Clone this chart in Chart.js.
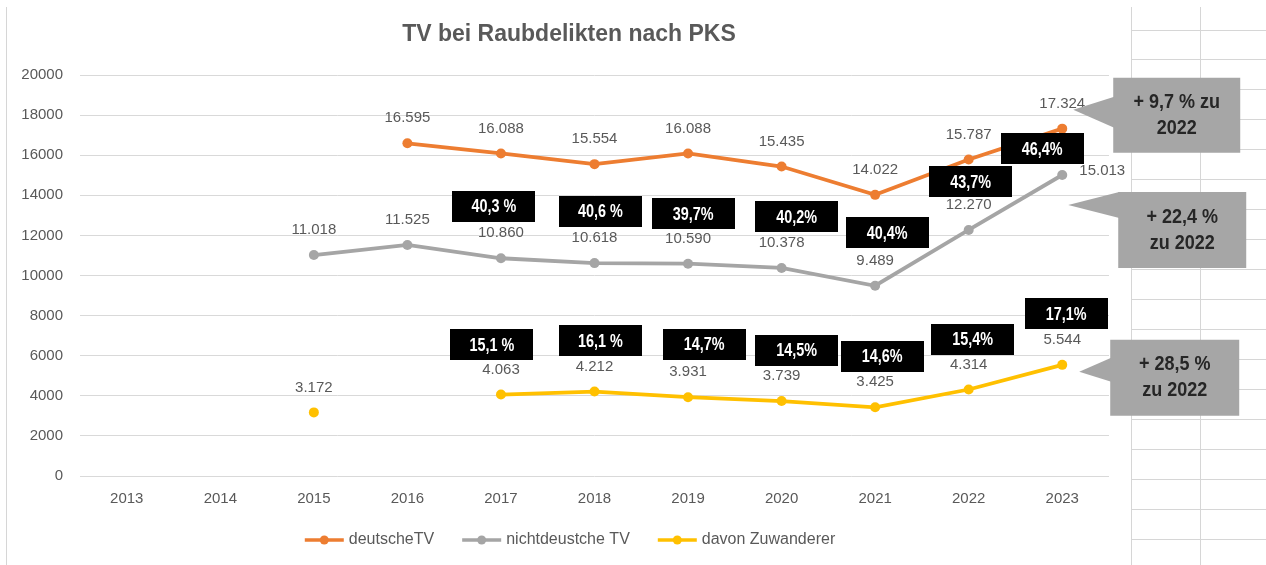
<!DOCTYPE html>
<html lang="de">
<head>
<meta charset="UTF-8">
<title>TV bei Raubdelikten nach PKS</title>
<script src="https://cdn.jsdelivr.net/npm/chart.js"></script>
<style>
    html, body { margin: 0; padding: 0; background: #fff; }
    #wrap { width: 1266px; height: 565px; }
</style>
</head>
<body>
<div id="wrap"><canvas id="chart" width="1266" height="565"></canvas></div>
<script>
    // Daten
    var years = ['2013', '2014', '2015', '2016', '2017', '2018', '2019', '2020', '2021', '2022', '2023'];
    var deutscheTV = [null, null, null, 16595, 16088, 15554, 16088, 15435, 14022, 15787, 17324];
    var nichtdeutscheTV = [null, null, 11018, 11525, 10860, 10618, 10590, 10378, 9489, 12270, 15013];
    var zuwanderer = [null, null, 3172, null, 4063, 4212, 3931, 3739, 3425, 4314, 5544];
    var anteilNichtdeutsch = [null, null, null, null, '40,3 %', '40,6 %', '39,7%', '40,2%', '40,4%', '43,7%', '46,4%'];
    var anteilZuwanderer = [null, null, null, null, '15,1 %', '16,1 %', '14,7%', '14,5%', '14,6%', '15,4%', '17,1%'];
    var veraenderung = [['+ 9,7 % zu', '2022'], ['+ 22,4 %', 'zu 2022'], ['+ 28,5 %', 'zu 2022']];
    var yMax = 20000, yStep = 2000;

    var seriesNames = ['deutscheTV', 'nichtdeustche TV', 'davon Zuwanderer'];
    var colors = ['#ED7D31', '#A5A5A5', '#FFC000'];
    var textGray = '#595959';

    // Lage der schwarzen Kästchen relativ zum Datenpunkt (Pixel)
    var upperBoxOffset = [null, null, null, null, [-7, -52], [6, -52], [5, -50], [15, -51], [12, -53], [2, -48], [-20, -26]];
    var lowerBoxOffset = [null, null, null, null, [-9, -50], [6, -51], [16, -53], [15, -51], [7, -51], [4, -50], [4, -51]];
    // Sprechblasen relativ zum letzten Punkt der jeweiligen Reihe: [dxBox, dyBox, w, h, tipDx, tipDy, baseTop, baseBottom]
    var calloutGeom = [
        [51, -51, 127, 75, 11, -19, 19, 50],
        [56, 17, 128, 76, 6, 30, 0, 26],
        [48, -25, 129, 76, 17, 7, 18, 42]
    ];

    function fmt(v) {
        return String(v).replace(/\B(?=(\d{3})+(?!\d))/g, '.');
    }

    var decorPlugin = {
        id: 'decor',
        beforeDraw: function (chart) {
            var ctx = chart.ctx;
            ctx.save();
            ctx.fillStyle = '#fff';
            ctx.fillRect(0, 0, chart.width, chart.height);
            // Excel-Zellraster rechts
            ctx.strokeStyle = '#D6D6D6';
            ctx.lineWidth = 1;
            ctx.beginPath();
            ctx.moveTo(1131.5, 7); ctx.lineTo(1131.5, 565);
            ctx.moveTo(1200.5, 7); ctx.lineTo(1200.5, 565);
            for (var y = 29.5; y < 565; y += 29.98) {
                ctx.moveTo(1131, Math.round(y) + 0.5); ctx.lineTo(1266, Math.round(y) + 0.5);
            }
            ctx.moveTo(6.5, 7); ctx.lineTo(6.5, 565);
            ctx.stroke();

            // Titel
            ctx.fillStyle = textGray;
            ctx.font = 'bold 23px "Liberation Sans", sans-serif';
            ctx.textAlign = 'center';
            ctx.textBaseline = 'middle';
            ctx.fillText('TV bei Raubdelikten nach PKS', 569, 35);

            // Legende
            ctx.font = '16px "Liberation Sans", sans-serif';
            var lineLen = 39, gapText = 5, gapItem = 28;
            var total = 0;
            seriesNames.forEach(function (n, i) {
                total += lineLen + gapText + ctx.measureText(n).width + (i < seriesNames.length - 1 ? gapItem : 0);
            });
            var x = 570 - total / 2, ly = 540;
            seriesNames.forEach(function (n, i) {
                ctx.strokeStyle = colors[i];
                ctx.lineWidth = 3.5;
                ctx.beginPath();
                ctx.moveTo(x, ly); ctx.lineTo(x + lineLen, ly);
                ctx.stroke();
                ctx.fillStyle = colors[i];
                ctx.beginPath();
                ctx.arc(x + lineLen / 2, ly, 4.5, 0, Math.PI * 2);
                ctx.fill();
                ctx.fillStyle = textGray;
                ctx.textAlign = 'left';
                ctx.fillText(n, x + lineLen + gapText, ly);
                x += lineLen + gapText + ctx.measureText(n).width + gapItem;
            });
            ctx.restore();
        },
        afterDatasetsDraw: function (chart) {
            var ctx = chart.ctx;
            ctx.save();
            // Datenbeschriftungen
            ctx.font = '15px "Liberation Sans", sans-serif';
            ctx.fillStyle = textGray;
            ctx.textAlign = 'center';
            ctx.textBaseline = 'middle';
            chart.data.datasets.forEach(function (ds, di) {
                var meta = chart.getDatasetMeta(di);
                ds.data.forEach(function (v, i) {
                    if (v === null) return;
                    var p = meta.data[i];
                    var dx = 0, dy = -25;
                    if (di === 1 && i === years.length - 1) { dx = 40; dy = -4; }
                    ctx.fillText(fmt(v), p.x + dx, p.y + dy);
                });
            });

            // schwarze Kästchen mit Anteilen
            function box(label, p, off) {
                var w = 83, h = 31;
                var cx = p.x + off[0], cy = p.y + off[1];
                ctx.fillStyle = '#000';
                ctx.fillRect(Math.round(cx - w / 2), Math.round(cy - h / 2), w, h);
                ctx.save();
                ctx.translate(cx, cy + 1);
                ctx.scale(0.8, 1);
                ctx.fillStyle = '#fff';
                ctx.font = 'bold 18px "Liberation Sans", sans-serif';
                ctx.fillText(label, 0, 0);
                ctx.restore();
            }
            var metaG = chart.getDatasetMeta(1), metaY = chart.getDatasetMeta(2);
            years.forEach(function (yr, i) {
                if (anteilNichtdeutsch[i]) box(anteilNichtdeutsch[i], metaG.data[i], upperBoxOffset[i]);
                if (anteilZuwanderer[i]) box(anteilZuwanderer[i], metaY.data[i], lowerBoxOffset[i]);
            });

            // Sprechblasen
            var last = years.length - 1;
            veraenderung.forEach(function (lines, di) {
                var p = chart.getDatasetMeta(di).data[last];
                var g = calloutGeom[di];
                var bx = p.x + g[0], by = p.y + g[1];
                ctx.fillStyle = '#A6A6A6';
                ctx.beginPath();
                ctx.rect(bx, by, g[2], g[3]);
                ctx.fill();
                ctx.beginPath();
                ctx.moveTo(p.x + g[4], p.y + g[5]);
                ctx.lineTo(bx + 1, by + g[6]);
                ctx.lineTo(bx + 1, by + g[7]);
                ctx.closePath();
                ctx.fill();
                ctx.fillStyle = '#262626';
                ctx.font = 'bold 20px "Liberation Sans", sans-serif';
                ctx.save();
                ctx.translate(bx + g[2] / 2, by + g[3] / 2);
                ctx.scale(0.9, 1);
                ctx.fillText(lines[0], 0, -13);
                ctx.fillText(lines[1], 0, 13);
                ctx.restore();
            });
            ctx.restore();
        }
    };

    function makeDataset(label, data, color) {
        return {
            label: label,
            data: data,
            borderColor: color,
            backgroundColor: color,
            pointBackgroundColor: color,
            pointBorderColor: color,
            borderWidth: 3.8,
            pointRadius: 5,
            pointBorderWidth: 0,
            spanGaps: false,
            tension: 0
        };
    }

    var chart = new Chart(document.getElementById('chart').getContext('2d'), {
        type: 'line',
        data: {
            labels: years,
            datasets: [
                makeDataset(seriesNames[0], deutscheTV, colors[0]),
                makeDataset(seriesNames[1], nichtdeutscheTV, colors[1]),
                makeDataset(seriesNames[2], zuwanderer, colors[2])
            ]
        },
        options: {
            responsive: false,
            animation: false,
            layout: { padding: { left: 0, top: 75, right: 157, bottom: 0 } },
            plugins: {
                legend: { display: false },
                title: { display: false },
                tooltip: { enabled: false }
            },
            scales: {
                x: {
                    offset: true,
                    grid: { display: false, drawTicks: false },
                    border: { display: false },
                    ticks: { color: textGray, font: { family: 'Liberation Sans', size: 15 }, padding: 14 },
                    afterFit: function (s) { s.height = 89; }
                },
                y: {
                    min: 0,
                    max: yMax,
                    grid: { color: '#D9D9D9', drawTicks: false },
                    border: { display: false },
                    ticks: {
                        stepSize: yStep,
                        color: textGray,
                        font: { family: 'Liberation Sans', size: 15 },
                        padding: 17,
                        callback: function (v) { return String(v); }
                    },
                    afterFit: function (s) { s.width = 80; }
                }
            }
        },
        plugins: [decorPlugin]
    });
</script>
</body>
</html>
